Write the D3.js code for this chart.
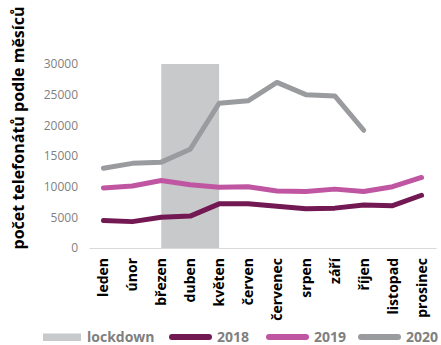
<!DOCTYPE html>
<html>
<head>
<meta charset="utf-8">
<script src="https://cdn.jsdelivr.net/npm/d3@7/dist/d3.min.js"></script>
<style>
  html, body { margin: 0; padding: 0; background: #fff; }
  svg { display: block; font-family: "Open Sans", "Noto Sans", sans-serif; }
</style>
</head>
<body>
<svg id="chart" width="441" height="345"></svg>
<script>
// Monthly call counts by year
const months = ["leden", "únor", "březen", "duben", "květen", "červen", "červenec", "srpen", "září", "říjen", "listopad", "prosinec"];
const calls2018 = [4500, 4300, 5000, 5200, 7200, 7200, 6800, 6400, 6500, 7000, 6900, 8600];
const calls2019 = [9800, 10100, 11000, 10300, 9900, 10000, 9300, 9200, 9600, 9200, 10000, 11500];
const calls2020 = [13000, 13800, 14000, 16100, 23600, 24000, 27000, 25000, 24800, 19200, null, null];
const yTicks = [0, 5000, 10000, 15000, 20000, 25000, 30000];
const lockdown = ["březen", "květen"];

const series = [
  { name: "2018", values: calls2018, color: "#721853" },
  { name: "2019", values: calls2019, color: "#c056a2" },
  { name: "2020", values: calls2020, color: "#9a9b9e" }
];

const svg = d3.select("#chart");

const x = d3.scaleBand().domain(months).range([89, 436]);
const y = d3.scaleLinear().domain([0, 30000]).range([248, 64]);
const cx = m => x(m) + x.bandwidth() / 2;

// lockdown period
svg.append("rect")
  .attr("x", cx(lockdown[0]))
  .attr("y", y(30000))
  .attr("width", cx(lockdown[1]) - cx(lockdown[0]))
  .attr("height", y(0) - y(30000))
  .attr("fill", "#c8c9cb");

// y axis (labels only)
const yAxis = svg.append("g")
  .attr("transform", "translate(78,0)")
  .call(d3.axisLeft(y).tickValues(yTicks).tickFormat(d3.format("d")).tickSize(0).tickPadding(0));
yAxis.select(".domain").remove();
yAxis.selectAll("text")
  .attr("fill", "#7f7f7f")
  .attr("font-size", 12)
  .attr("font-family", "'Open Sans', 'Noto Sans', sans-serif");

// x axis
const xAxis = svg.append("g")
  .attr("transform", "translate(0,248)")
  .call(d3.axisBottom(x).tickSize(0).tickPadding(0));
xAxis.select(".domain").attr("stroke", "#d9d9d9").attr("stroke-width", 1.2);
xAxis.selectAll("text")
  .attr("fill", "#000")
  .attr("font-size", 14)
  .attr("font-weight", "bold")
  .attr("font-family", "'Open Sans', 'Noto Sans', sans-serif")
  .attr("text-anchor", "end")
  .attr("dy", null)
  .attr("y", 0)
  .attr("transform", "translate(5,10) rotate(-90)");

// lines
const line = d3.line()
  .defined(d => d.v != null)
  .x(d => cx(d.m))
  .y(d => y(d.v));

series.forEach(s => {
  svg.append("path")
    .datum(months.map((m, i) => ({ m, v: s.values[i] })))
    .attr("fill", "none")
    .attr("stroke", s.color)
    .attr("stroke-width", 5)
    .attr("stroke-linejoin", "round")
    .attr("stroke-linecap", "round")
    .attr("d", line);
});

// y axis title
svg.append("text")
  .attr("transform", "translate(24,128) rotate(-90)")
  .attr("text-anchor", "middle")
  .attr("font-size", 16)
  .attr("font-weight", "bold")
  .attr("fill", "#000")
  .text("počet telefonátů podle měsíců");

// legend
const legend = svg.append("g");
legend.append("rect")
  .attr("x", 43).attr("y", 333.5).attr("width", 38).attr("height", 7.5)
  .attr("fill", "#c8c9cb");
legend.append("text")
  .attr("x", 87).attr("y", 342)
  .attr("font-size", 14).attr("font-weight", "bold").attr("fill", "#808080")
  .text("lockdown");

const legendX = [169, 266, 358];
series.forEach((s, i) => {
  legend.append("line")
    .attr("x1", legendX[i] + 3).attr("x2", legendX[i] + 40)
    .attr("y1", 337).attr("y2", 337)
    .attr("stroke", s.color).attr("stroke-width", 6).attr("stroke-linecap", "round");
  legend.append("text")
    .attr("x", legendX[i] + 48).attr("y", 342)
    .attr("font-size", 14).attr("font-weight", "bold").attr("fill", "#808080")
    .text(s.name);
});
</script>
</body>
</html>
